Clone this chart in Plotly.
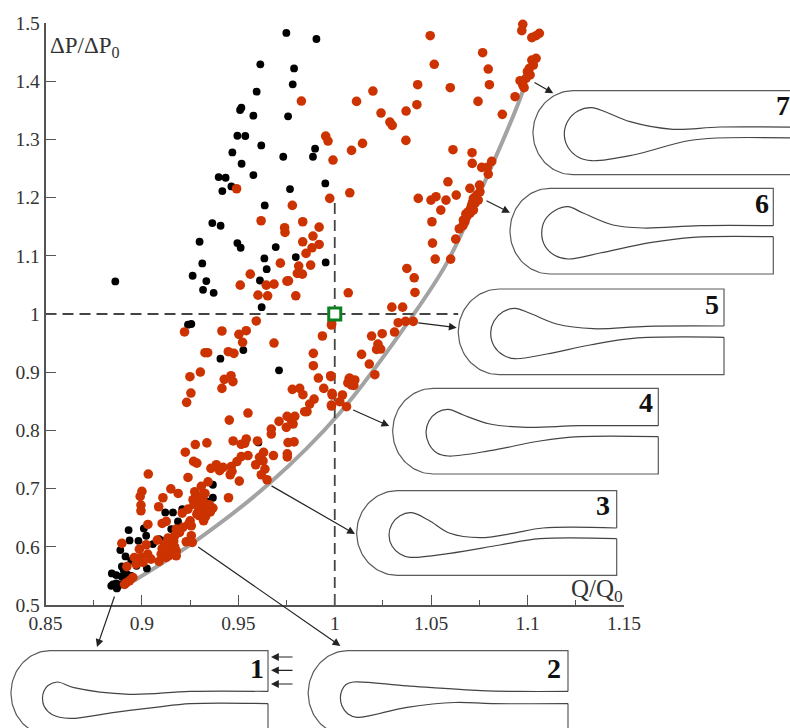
import numpy as np
import plotly.graph_objects as go

x_tick_vals = [0.85, 0.9, 0.95, 1, 1.05, 1.1, 1.15]
x_tick_text = ["0.85", "0.9", "0.95", "1", "1.05", "1.1", "1.15"]
x_minor_vals = [0.875, 0.925, 0.975, 1.025, 1.075, 1.125]
y_tick_vals = [0.5, 0.6, 0.7, 0.8, 0.9, 1, 1.1, 1.2, 1.3, 1.4, 1.5]
y_tick_text = ["0.5", "0.6", "0.7", "0.8", "0.9", "1", "1.1", "1.2", "1.3", "1.4", "1.5"]

front_x = [0.892, 0.9274, 0.9663, 1.0026, 1.0406, 1.058, 1.0736, 1.0977, 1.1]
front_y = [0.534, 0.609, 0.7096, 0.83, 0.998, 1.087, 1.196, 1.385, 1.42]

black_upper = [
    (.9749,1.483),(.9905,1.4725),(.9614,1.429),(.9789,1.422),(.9782,1.3946),(.9595,1.382),
    (.9516,1.3545),(.9509,1.3505),(.9578,1.3407),(.9758,1.3396),(.9495,1.3063),(.9536,1.3058),
    (.9619,1.2897),(.9469,1.2777),(.9898,1.284),(.9733,1.2702),(.9887,1.2702),(.9517,1.2582),
    (.9578,1.2387),(.9398,1.2353),(.9434,1.2341),(.9951,1.2244),(.9464,1.2192),(.9417,1.2112),
    (.9768,1.2147),(.9637,1.1866),(.9365,1.1562),(.9408,1.1516),(.9299,1.1241),(.9495,1.1218),
    (.9512,1.1138),(.9694,1.115),(.9635,1.0955),(.9798,1.0978),(.9953,1.0886),(.9313,1.0869),
    (.9647,1.0771),(.9263,1.0657),(.8862,1.0559),(.9334,1.0565),(.9612,1.0576),(.9317,1.0416),
    (.9372,1.0364),(.9621,1.0118),
]
black_lower = [
    (.9239,.9817),(.9256,.9828),(.9407,.9232),(.9526,.9381),(.9711,.9032),(.9604,.7794),
    (.9368,.7066),(.9368,.6843),(.9337,.678),(.9209,.6648),(.9121,.6591),(.9161,.6591),
    (.9187,.6436),(.9152,.6304),(.9010,.6316),(.8931,.6287),(.9022,.619),(.8936,.6109),
    (.8982,.6103),(.909,.6132),(.8888,.5943),(.8915,.5834),(.8945,.576),(.8896,.5662),
    (.9026,.5628),(.8844,.5543),(.8867,.5514),(.8972,.5674),(.891,.5559),(.8945,.5502),
    (.9057,.6046),(.9109,.6103),(.8841,.533),(.8858,.5342),(.887,.5284),(.8888,.5354),
    (.891,.5394),(.8927,.5452),(.885,.5354),(.8867,.5371),(.8895,.5488),(.8875,.5322),(.8905,.5605),
    (.8925,.552),
]
red_upper_left = [
    (.9827,1.3659),(.9953,1.3058),(.9965,1.2972),(.9991,1.2645),(.9491,1.2152),(.9974,1.1986),
    (.978,1.1866),(.9618,1.1602),(.9834,1.1585),(.974,1.1482),(.9919,1.1493),(.9742,1.1402),
    (.9887,1.1339),(.9834,1.1241),(.9919,1.1195),(.9882,1.1138),(.9851,1.1041),(.9718,1.0874),
    (.9875,1.084),(.9813,1.0823),(.9562,1.0685),(.9806,1.0697),(.9832,1.0685),(.9510,1.0496),
    (.9645,1.0496),(.9685,1.0513),(.9752,1.0565),(.976,1.057),(.9602,1.0324),(.9652,1.0313),
    (.9798,1.0313),
]
red_lower_left = [
    (.9593,.988),(.9984,.9834),(.9936,.9622),(.9221,.9691),(.9415,.9708),(.9503,.965),(.9541,.9713),
    (.9522,.9513),(.9685,.9501),(.9327,.9335),(.9341,.9335),(.9448,.9352),(.9477,.9324),(.9889,.9324),
    (.9889,.9112),(.9249,.8923),(.9303,.9003),(.9462,.894),(.9427,.8877),(.9472,.8837),(.9415,.8722),
    (.9254,.8642),(.9232,.8482),(.9915,.89),(.9979,.894),(.9943,.8722),(.978,.8705),(.9818,.8722),
    (.9835,.8613),(.9986,.8636),(.9893,.8539),(.987,.8453),(.9983,.8436),(1.004,.8608),(1.0026,.8493),
    (.9844,.8321),(.9856,.8321),(.955,.8298),(.9453,.8177),(.9711,.8155),(.9753,.8241),(.9793,.8241),
    (.9776,.8166),(.9749,.8052),(.9784,.8109),(.9671,.8023),(.9671,.7937),(.9473,.7819),(.9337,.7785),
    (.9277,.7757),(.9225,.7625),(.9541,.7853),(.9515,.7762),(.9533,.7779),(.9599,.7819),(.9758,.7791),
    (.9789,.7802),(.955,.7568),(.9515,.7551),(.9493,.7465),(.9463,.7379),(.9631,.7622),(.961,.7537),
    (.9628,.7476),(.959,.741),(.9754,.7597),(.9754,.7545),(.9682,.7568),(.9268,.7467),(.9285,.7438),
    (.9386,.741),(.9358,.7347),(.9421,.7364),(.9403,.7307),(.9467,.7295),(.9458,.7238),(.9638,.7335),
    (.9619,.7238),(.9649,.7152),(.9505,.7129),(.9239,.7192),(.9033,.725),(.9343,.7117),(.9308,.7038),
    (.9,.6952),(.8991,.6866),(.9449,.6843),(.915,.6995),(.9188,.6917),(.9109,.6843),(.9274,.6946),
    (.9327,.6917),(.9265,.6809),(.9317,.6791),(.8995,.6717),(.8995,.6619),(.9087,.6688),(.9299,.6705),
    (.9368,.6665),(.9334,.6648),(.929,.6591),(.9334,.6579),(.9239,.6648),(.9209,.6579),(.9299,.6533),
    (.932,.6447),(.9031,.6384),(.9105,.6401),(.9126,.6436),(.925,.6447),(.9242,.639),(.9178,.6304),
    (.9212,.6333),(.9256,.6361),(.9195,.6247),(.917,.619),(.9256,.619),(.9247,.6103),(.923,.6087),
    (.9261,.6075),(.908,.6115),(.9152,.6103),(.9135,.6046),(.9152,.5988),(.9118,.596),(.9178,.5931),
    (.91,.5874),(.9152,.5903),(.9178,.5846),(.9126,.5817),(.8896,.6058),(.9022,.6035),(.8987,.596),
    (.8961,.5817),(.8995,.5817),(.903,.5874),(.9047,.5788),(.897,.5703),(.9006,.5731),(.9089,.5748),
    (.8922,.566),(.8953,.5473),(.8935,.5416),(.8917,.5375),(.891,.5355),
    (.928,.685),(.931,.688),(.935,.672),(.93,.665),(.933,.652),(.927,.673),(.9355,.66),(.9285,.656),
    (.912,.605),(.914,.585),(.917,.6),(.9105,.597),(.9165,.61),(.9135,.615),
]
red_right = [
    (1.0495,1.4782),(1.0516,1.429),(1.0767,1.449),(1.0796,1.4209),(1.0802,1.394),(1.0975,1.4978),
    (1.097,1.4868),(1.1022,1.4748),(1.1061,1.4823),(1.1044,1.4782),(1.043,1.394),(1.0198,1.3831),
    (1.0599,1.3888),(1.0113,1.3653),(1.0426,1.3596),(1.037,1.3487),(1.024,1.3453),(1.0286,1.3298),
    (1.0298,1.3241),(1.0743,1.3653),(1.0935,1.3734),(1.0869,1.343),(1.0369,1.2983),(1.0144,1.2931),
    (1.0087,1.2811),(1.0613,1.2823),(1.0712,1.2771),(1.0713,1.2588),(1.0814,1.2622),(1.0762,1.2519),
    (1.0791,1.2519),(1.0796,1.2404),(1.0078,1.2083),(1.0587,1.2272),(1.0751,1.2215),(1.0701,1.2158),
    (1.0433,1.1986),(1.0499,1.1957),(1.0525,1.2015),(1.0577,1.1957),(1.063,1.2043),(1.055,1.1785),
    (1.0504,1.1585),(1.0507,1.1218),(1.0521,1.0943),(1.0601,1.0943),(1.0627,1.1287),(1.0646,1.1465),
    (1.0374,1.0783),(1.0412,1.0622),(1.0416,1.037),(1.007,1.0364),(1.0296,1.0118),(1.0352,1.0118),
    (1.0667,1.1614),(1.0684,1.1671),(1.0701,1.1728),(1.0719,1.1785),(1.071,1.1871),(1.0727,1.19),
    (1.0744,1.1957),(1.0719,1.1986),(1.0736,1.2043),(1.0753,1.21),(1.0675,1.1585),(1.0693,1.1757),
    (1.068,1.172),(1.0705,1.182),(1.0735,1.196),(1.0715,1.192),(1.0665,1.152),
    (1.1044,1.4393),(1.1022,1.4364),(1.103,1.4278),(1.1009,1.4222),(1.0999,1.4164),(1.1013,1.4107),
    (1.0992,1.405),(1.0961,1.4009),(1.0975,1.3935),(1.0982,1.3888),
    (1.0329,.985),(1.0367,.9873),(1.0407,.9873),(1.031,.969),(1.0246,.9661),(1.0191,.9621),
    (1.0224,.9484),(1.0217,.9392),(1.0238,.9398),(1.0139,.9306),(1.0179,.914),(1.0208,.8957),
    (.9983,.981),(.998,.8923),(1.0078,.8895),(1.0104,.8866),(1.0087,.878),(1.0068,.8815),(1.0075,.8894),
    (1.0099,.8773),(.9987,.8608),(.9983,.8419),(1.0061,.8407),
]

dash_h_x = [0.85, 1.064]
dash_h_y = [1, 1]
dash_v_x = [1, 1]
dash_v_y = [0.5, 1.2]
reference_point = ([1], [1])

# Inset outlines, in page pixels: left, arc centre, top, bottom, right, label x, label y
inset_frames = {
    "1": (11, 50, 650.7, 735.5, 268, 257, 668.5),
    "2": (308.2, 347.8, 650.7, 735.5, 568, 553.8, 668.5),
    "3": (356.7, 397.3, 490.7, 575.3, 616.7, 602.7, 505),
    "4": (392.7, 433.3, 388.3, 474, 658.3, 646, 402.7),
    "5": (458.3, 499.3, 289, 374.7, 724, 711.7, 304),
    "6": (510, 550, 188.3, 274, 773.3, 761.7, 203),
    "7": (533, 573, 90.7, 174.7, 800, 783, 105),
}
inset_inner = {
    "1": [(268,691.4),(190,691.4),(129.5,694.3),(74,687.7),(57.3,682),(48,685.5),(44,691),(42.5,698),(44,706),(52,714.5),(70,718.4),
          (111,712.8),(155.4,707.3),(190.5,703.6),(268,703.6)],
    "2": [(568,691.4),(518,691.4),(481,690.6),(407,685.8),(353.3,682),(346,684.5),(342,690),(340.4,698),(342,706),(348,714),(357,717.3),
          (407,707.3),(455,702.5),(492,703.6),(568,703.6)],
    "3": [(616.7,528),(543,528),(513,533.3),(480,537.7),(450,533.3),(428.3,520),(411.7,512.7),(400,515.7),(392,524),(389,535),
          (392,546),(400,554),(410,557.3),(450,553.3),(500,545),(540,538.7),(616.7,538.7)],
    "4": [(658.3,425.7),(580,425.7),(526.7,427.3),(490,424),(463.3,415),(448.3,409.3),(437,412.5),(429,421),(426,432),
          (429,444),(437,453),(448.3,456),(490,450.7),(540,441),(580,436.7),(658.3,436.7)],
    "5": [(724,326),(646.7,326.3),(593.3,328.7),(556.7,324),(530,313.3),(515,308.3),(503,311.8),(494,321),(490.7,333),
          (494,346),(503,355),(515,358.7),(546.7,354),(590,345),(633,338.3),(724,337.3)],
    "6": [(773.3,225.7),(700,225.7),(643,228),(613,225),(583,213),(568,206.7),(555,210.5),(545,220),(541.7,233),
          (545,246),(555,255.5),(568,259),(600,253),(650,242.7),(693,237.3),(773.3,236.7)],
    "7": [(800,127.3),(720,127),(673,129.3),(630,121.7),(605,111.7),(591.7,107.7),(578,111),(568,120.7),(564.3,134),
          (568,147.3),(578,157),(591.7,160.7),(633,155),(686.7,141),(716.7,138),(800,138)],
}
# Arrows in page pixels: start x, start y, head x, head y
arrows = [
    (115,595,97,647),(196.7,546,340.4,646),(270,485,355,534),(351.7,409.3,389.3,426),
    (416.7,322.7,456.7,327.7),(485,200,510,212.7),(533,81.7,553.3,93.3),
    (294,657,271,657),(294,670.3,271,670.3),(294,684,271,684),
]

W, H = 790, 728
L, R, T, B = 45.5, 624, 23, 605
RED = "#cc3300"
INK = "#555555"
SERIF = "Liberation Serif"

fig = go.Figure()

fig.add_trace(go.Scatter(x=front_x, y=front_y, mode="lines", line=dict(color="#a3a3a3", width=4, shape="spline"),
                         hoverinfo="skip"))
for xs, ys in ((dash_h_x, dash_h_y), (dash_v_x, dash_v_y)):
    fig.add_trace(go.Scatter(x=xs, y=ys, mode="lines", line=dict(color="#444444", width=1.8, dash="11px,6px"),
                             hoverinfo="skip"))
bx, by = zip(*(black_upper + black_lower))
fig.add_trace(go.Scatter(x=bx, y=by, mode="markers", marker=dict(color="#000000", size=7.8)))
rx, ry = zip(*(red_upper_left + red_lower_left + red_right))
fig.add_trace(go.Scatter(x=rx, y=ry, mode="markers", marker=dict(color=RED, size=9.6), cliponaxis=False))
fig.add_trace(go.Scatter(x=reference_point[0], y=reference_point[1], mode="markers",
                         marker=dict(symbol="square", size=12, color="white",
                                     line=dict(color="#0a8020", width=3))))

theta = np.linspace(0, np.pi, 60)
annotations = []
for name, (left, cx, top, bottom, right, lx, ly) in inset_frames.items():
    inner = inset_inner[name]
    cy = (top + bottom) / 2
    ax = list(cx - (cx - left) * np.sin(theta))
    ay = list(cy - (bottom - top) / 2 * np.cos(theta))
    ox = [inner[0][0], right, cx] + ax + [right, right]
    oy = [inner[0][1], top, top] + ay + [bottom, inner[-1][1]]
    fig.add_trace(go.Scatter(x=ox, y=oy, xaxis="x2", yaxis="y2", mode="lines",
                             line=dict(color="#5a5a5a", width=1.2), hoverinfo="skip"))
    fig.add_trace(go.Scatter(x=[p[0] for p in inner], y=[p[1] for p in inner], xaxis="x2", yaxis="y2", mode="lines",
                             line=dict(color="#444444", width=1.2, shape="spline", smoothing=1.0), hoverinfo="skip"))
    annotations.append(dict(x=lx, y=ly, xref="x2", yref="y2", text=f"<b>{name}</b>", showarrow=False,
                            font=dict(family=SERIF, size=28, color="#111111")))

for x0, y0, x1, y1 in arrows:
    annotations.append(dict(x=x1, y=y1, ax=x0, ay=y0, xref="x2", yref="y2", axref="x2", ayref="y2", text="",
                            showarrow=True, arrowhead=2, arrowsize=1.3, arrowwidth=1.2, arrowcolor="#222222",
                            standoff=0, startstandoff=0))

annotations.append(dict(x=85, y=47, xref="x2", yref="y2", text="ΔP/ΔP<sub>0</sub>", showarrow=False,
                        font=dict(family=SERIF, size=23, color="#333333")))
annotations.append(dict(x=597, y=590, xref="x2", yref="y2", text="Q/Q<sub>0</sub>", showarrow=False,
                        font=dict(family=SERIF, size=25, color="#333333")))

fig.update_layout(
    width=W, height=H, autosize=False, margin=dict(l=0, r=0, t=0, b=0, autoexpand=False), showlegend=False,
    paper_bgcolor="white", plot_bgcolor="rgba(0,0,0,0)", annotations=annotations,
    xaxis=dict(domain=[L / W, R / W], range=[0.85, 1.15], tickmode="array", tickvals=x_tick_vals,
               ticktext=x_tick_text, ticks="inside", ticklen=10, tickwidth=1.2, tickcolor=INK, showgrid=False,
               zeroline=False, showline=True, linecolor=INK, linewidth=1.6, anchor="y", automargin=False,
               tickfont=dict(family=SERIF, size=19.5, color="#333333"),
               minor=dict(tickmode="array", tickvals=x_minor_vals, ticks="inside", ticklen=5, tickwidth=1.2,
                          tickcolor=INK, showgrid=False)),
    yaxis=dict(domain=[1 - B / H, 1 - T / H], range=[0.5, 1.5], tickmode="array", tickvals=y_tick_vals,
               ticktext=y_tick_text, ticks="inside", ticklen=11, tickwidth=1.2, tickcolor=INK, showgrid=False,
               zeroline=False, showline=True, linecolor=INK, linewidth=1.6, anchor="x", automargin=False,
               tickfont=dict(family=SERIF, size=19.5, color="#333333")),
    xaxis2=dict(domain=[0, 1], range=[0, W], visible=False, anchor="y2", fixedrange=True, automargin=False),
    yaxis2=dict(domain=[0, 1], range=[H, 0], visible=False, anchor="x2", fixedrange=True, automargin=False),
)

fig.write_html("out.html", post_script="document.body.style.margin='0';document.body.style.overflow='hidden';",
               config=dict(displayModeBar=False))
